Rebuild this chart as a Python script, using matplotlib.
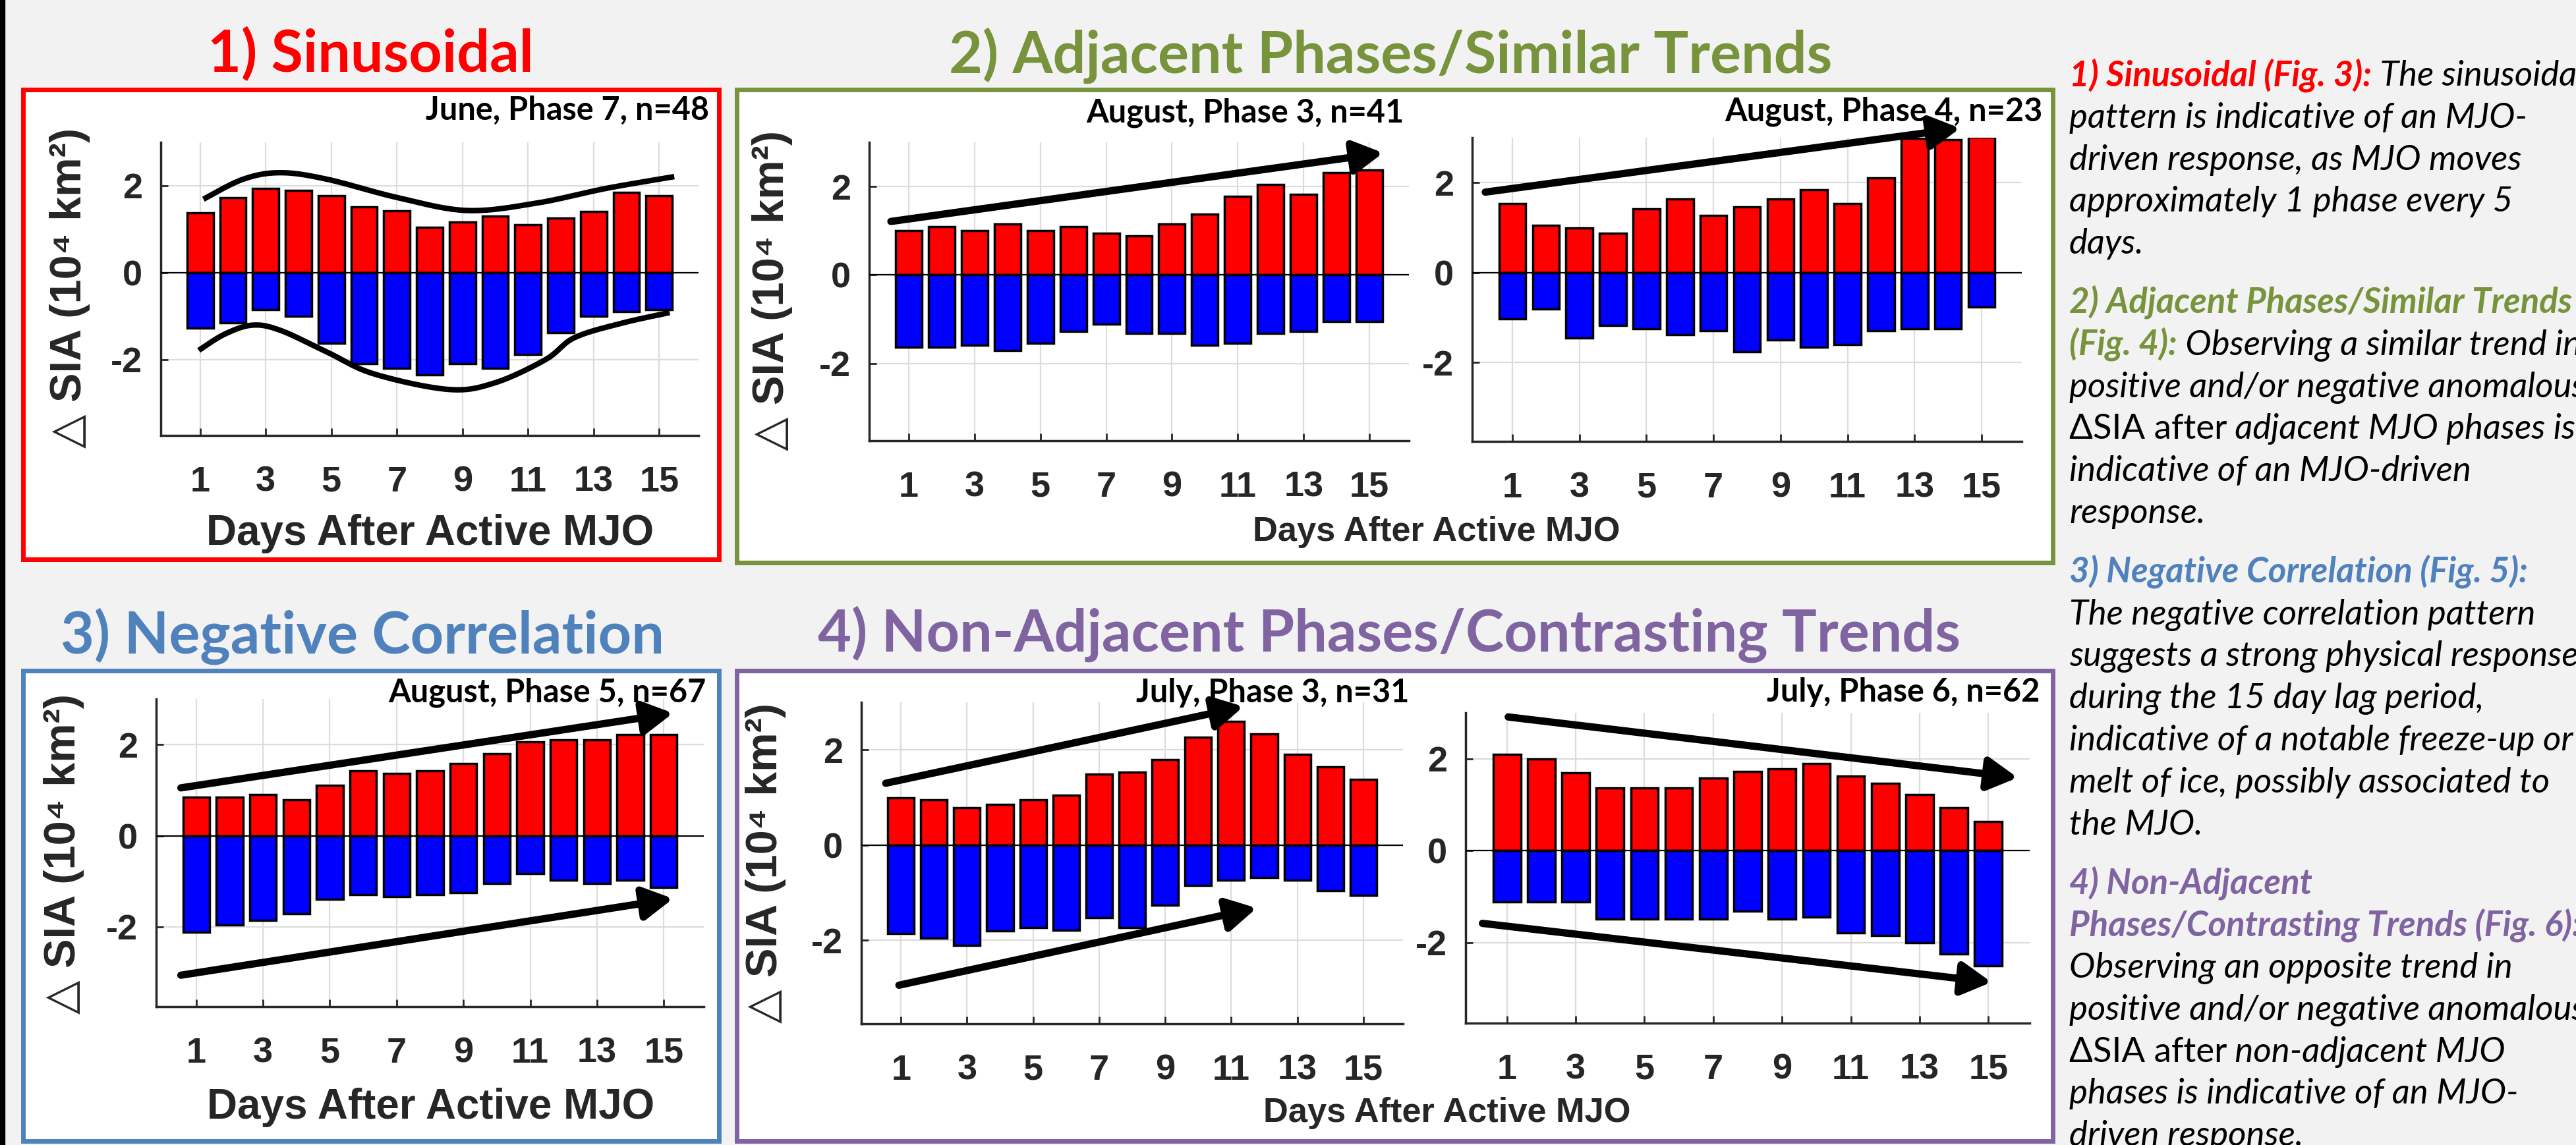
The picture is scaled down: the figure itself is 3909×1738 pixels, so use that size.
import numpy as np
import matplotlib
matplotlib.use("Agg")
import matplotlib.pyplot as plt
from matplotlib.patches import Rectangle

W, H = 3909, 1738

days = np.arange(1, 16)

# June, phase 7 (sinusoidal)
jun7_pos = [1.38, 1.73, 1.94, 1.89, 1.77, 1.52, 1.42, 1.04, 1.16, 1.30, 1.10, 1.26, 1.41, 1.84, 1.77]
jun7_neg = [-1.27, -1.16, -0.86, -1.00, -1.63, -2.10, -2.21, -2.36, -2.10, -2.21, -1.88, -1.38, -1.00, -0.90, -0.85]
# August, phase 3 and 4 (adjacent phases)
aug3_pos = [1.00, 1.10, 1.00, 1.15, 1.00, 1.10, 0.95, 0.88, 1.15, 1.37, 1.78, 2.04, 1.83, 2.32, 2.37]
aug3_neg = [-1.64, -1.64, -1.59, -1.71, -1.54, -1.27, -1.11, -1.32, -1.32, -1.59, -1.54, -1.32, -1.27, -1.06, -1.06]
aug4_pos = [1.53, 1.05, 1.00, 0.88, 1.42, 1.64, 1.27, 1.46, 1.64, 1.85, 1.53, 2.11, 2.98, 2.96, 3.02]
aug4_neg = [-1.02, -0.81, -1.45, -1.18, -1.24, -1.38, -1.29, -1.76, -1.50, -1.65, -1.60, -1.29, -1.24, -1.24, -0.76]
# August, phase 5 (negative correlation)
aug5_pos = [0.84, 0.85, 0.90, 0.79, 1.11, 1.43, 1.37, 1.43, 1.58, 1.80, 2.06, 2.11, 2.11, 2.22, 2.22]
aug5_neg = [-2.12, -1.96, -1.85, -1.71, -1.39, -1.29, -1.33, -1.29, -1.25, -1.04, -0.83, -0.98, -1.04, -0.98, -1.13]
# July, phase 3 and 6 (non-adjacent phases)
jul3_pos = [0.99, 0.95, 0.78, 0.85, 0.95, 1.05, 1.49, 1.53, 1.80, 2.27, 2.60, 2.33, 1.91, 1.64, 1.38]
jul3_neg = [-1.85, -1.95, -2.11, -1.80, -1.73, -1.78, -1.52, -1.73, -1.26, -0.84, -0.73, -0.68, -0.73, -0.95, -1.05]
jul6_pos = [2.10, 2.00, 1.69, 1.37, 1.37, 1.37, 1.58, 1.73, 1.78, 1.89, 1.63, 1.47, 1.22, 0.94, 0.63]
jul6_neg = [-1.12, -1.12, -1.12, -1.48, -1.48, -1.48, -1.48, -1.32, -1.48, -1.44, -1.79, -1.84, -2.00, -2.25, -2.51]

# hand drawn envelope curves on the sinusoidal panel (day, value)
upper_x = [1.10, 2.31, 3.45, 4.87, 7.00, 9.13, 11.26, 13.39, 15.46]
upper_y = [1.69, 2.15, 2.30, 2.15, 1.73, 1.43, 1.60, 1.94, 2.21]
lower_x = [0.96, 1.74, 2.59, 3.45, 4.87, 6.29, 8.57, 9.98, 11.54, 12.41, 13.83, 15.32]
lower_y = [-1.79, -1.42, -1.21, -1.33, -1.83, -2.33, -2.69, -2.54, -2.00, -1.50, -1.17, -0.92]

# trend arrows (x0, y0, x1, y1) in day / value units
aug3_arrows = [(0.46, 1.21, 15.42, 2.76)]
aug4_arrows = [(0.19, 1.79, 14.36, 3.21)]
aug5_arrows = [(0.54, 1.05, 15.28, 2.69), (0.54, -3.06, 15.28, -1.38)]
jul3_arrows = [(0.54, 1.30, 11.37, 2.91), (0.94, -2.94, 11.77, -1.32)]
jul6_arrows = [(1.04, 2.91, 15.85, 1.59), (0.29, -1.58, 15.09, -2.86)]

titles = ["1) Sinusoidal", "2) Adjacent Phases/Similar Trends",
          "3) Negative Correlation", "4) Non-Adjacent Phases/Contrasting Trends"]
cases = ["June, Phase 7, n=48", "August, Phase 3, n=41", "August, Phase 4, n=23",
         "August, Phase 5, n=67", "July, Phase 3, n=31", "July, Phase 6, n=62"]
xlab = "Days After Active MJO"
ylab = "\u25b3 SIA (10\u2074 km\u00b2)"

RED, GREEN, BLUE, PURPLE = "#ff0000", "#77933c", "#4f81bd", "#8064a2"
GRAY = "#262626"

# right hand notes, one list per paragraph, one list per line
notes = [
    [[("1) Sinusoidal (Fig. 3):", "h1"), (" The sinusoidal", "it")],
     [("pattern is indicative of an MJO-", "it")],
     [("driven response, as MJO moves", "it")],
     [("approximately 1 phase every 5", "it")],
     [("days.", "it")]],
    [[("2) Adjacent Phases/Similar Trends", "h2")],
     [("(Fig. 4):", "h2"), (" Observing a similar trend in", "it")],
     [("positive and/or negative anomalous", "it")],
     [("\u0394SIA after", "rm"), (" adjacent MJO phases is", "it")],
     [("indicative of an MJO-driven", "it")],
     [("response.", "it")]],
    [[("3) Negative Correlation (Fig. 5):", "h3")],
     [("The negative correlation pattern", "it")],
     [("suggests a strong physical response", "it")],
     [("during the 15 day lag period,", "it")],
     [("indicative of a notable freeze-up or", "it")],
     [("melt of ice, possibly associated to", "it")],
     [("the MJO.", "it")]],
    [[("4) Non-Adjacent", "h4")],
     [("Phases/Contrasting Trends (Fig. 6):", "h4")],
     [("Observing an opposite trend in", "it")],
     [("positive and/or negative anomalous", "it")],
     [("\u0394SIA after", "rm"), (" non-adjacent MJO", "it")],
     [("phases is indicative of an MJO-", "it")],
     [("driven response.", "it")]],
]
note_styles = {
    "h1": dict(color=RED, style="italic", fontweight="bold"),
    "h2": dict(color=GREEN, style="italic", fontweight="bold"),
    "h3": dict(color=BLUE, style="italic", fontweight="bold"),
    "h4": dict(color=PURPLE, style="italic", fontweight="bold"),
    "it": dict(color="black", style="italic", fontweight="normal"),
    "rm": dict(color="black", style="normal", fontweight="normal"),
}

plt.rcParams["font.family"] = ["Liberation Sans", "DejaVu Sans"]
plt.rcParams["axes.unicode_minus"] = False
SOFT = ["Lato", "DejaVu Sans"]

fig = plt.figure(figsize=(W / 100, H / 100), dpi=100, facecolor="#f2f2f2")
rend = fig.canvas.get_renderer()


def fit(s, target, **kw):
    # font size that makes s about target pixels wide
    t = fig.text(0, 0, s, fontsize=50, **kw)
    w = t.get_window_extent(renderer=rend).width
    t.remove()
    return 50 * target / w


# background layer in pixel units
bg = fig.add_axes([0, 0, 1, 1], zorder=0)
bg.set_xlim(0, W)
bg.set_ylim(H, 0)
bg.axis("off")
bg.add_patch(Rectangle((0, 0), 7, H, color="black"))

boxes = [(35, 136, 1091, 849, RED), (1118, 136, 3115, 854, GREEN),
         (35, 1018, 1091, 1732, BLUE), (1118, 1018, 3115, 1732, PURPLE)]
for l, t, r, b, c in boxes:
    bg.add_patch(Rectangle((l, t), r - l, b - t, facecolor="white", edgecolor=c, lw=5))

title_fs = fit(titles[2], 918, family=SOFT, fontweight="bold")
for s, (x, y), c in zip(titles, [(562, 109), (2110, 111), (550, 992), (2108, 989)],
                        [RED, GREEN, BLUE, PURPLE]):
    bg.text(x, y, s, ha="center", va="baseline", color=c, fontsize=title_fs,
            family=SOFT, fontweight="bold")

case_fs = fit(cases[1], 482, family=SOFT, fontweight="bold")
for s, (x, y) in zip(cases, [(1076, 182), (2131, 186), (3100, 184),
                             (1072, 1066), (2138, 1066), (3095, 1065)]):
    bg.text(x, y, s, ha="right", va="baseline", fontsize=case_fs, family=SOFT,
            fontweight="bold", color="black")

xl_fs = fit(xlab, 680, fontweight="bold")
xl2_fs = fit(xlab, 558, fontweight="bold")
for (x, y), fs in zip([(653, 810), (2180, 807), (654, 1681), (2196, 1689)],
                      [xl_fs, xl2_fs, xl_fs, xl2_fs]):
    bg.text(x, y, xlab, ha="center", va="center", fontsize=fs, fontweight="bold", color=GRAY)

yl_fs = fit(ylab, 486, fontweight="bold")
for x, y in [(106, 437), (1172, 441), (97, 1296), (1162, 1310)]:
    bg.text(x, y, ylab, ha="center", va="center", rotation=90, fontsize=yl_fs,
            fontweight="bold", color=GRAY)


def catmull(xs, ys, n=20):
    # smooth curve through the hand drawn control points
    p = np.column_stack([xs, ys])
    p = np.vstack([p[0], p, p[-1]])
    out = []
    tt = np.linspace(0, 1, n, endpoint=False)[:, None]
    for i in range(1, len(p) - 2):
        p0, p1, p2, p3 = p[i - 1], p[i], p[i + 1], p[i + 2]
        out.append(0.5 * (2 * p1 + (-p0 + p2) * tt + (2 * p0 - 5 * p1 + 4 * p2 - p3) * tt ** 2
                          + (-p0 + 3 * p1 - 3 * p2 + p3) * tt ** 3))
    out.append(p[-2][None, :])
    return np.vstack(out)


def panel(box, pos, neg, arrows=()):
    l, t, r, b = box
    ax = fig.add_axes([l / W, 1 - b / H, (r - l) / W, (b - t) / H], zorder=1)
    ax.patch.set_alpha(0)
    ax.bar(days, pos, 0.8, color="#ff0000", edgecolor="black", lw=2.5, zorder=2)
    ax.bar(days, neg, 0.8, color="#0000ff", edgecolor="black", lw=2.5, zorder=2)
    ax.axhline(0, color="black", lw=1.6, zorder=3)
    ax.set_xlim(-0.2, 16.2)
    ax.set_ylim(-3.75, 3)
    ax.set_xticks(range(1, 16, 2))
    ax.set_yticks([-2, 0, 2])
    ax.grid(True, color="#dcdcdc", lw=1.6)
    ax.set_axisbelow(True)
    for s in ["top", "right"]:
        ax.spines[s].set_visible(False)
    for s in ["left", "bottom"]:
        ax.spines[s].set_linewidth(2.5)
        ax.spines[s].set_color(GRAY)
    ax.tick_params(direction="in", length=8, width=2, colors=GRAY, labelsize=39)
    ax.tick_params(axis="x", pad=33)
    ax.tick_params(axis="y", pad=20)
    for lab in ax.get_xticklabels() + ax.get_yticklabels():
        lab.set_fontweight("bold")
    for x0, y0, x1, y1 in arrows:
        ax.annotate("", xy=(x1, y1), xytext=(x0, y0), annotation_clip=False,
                    arrowprops=dict(arrowstyle="-|>,head_length=0.9,head_width=0.5",
                                    lw=8, color="black", mutation_scale=30,
                                    shrinkA=0, shrinkB=0))
    return ax


ax1 = panel((244, 216, 1060, 661), jun7_pos, jun7_neg)
for cx, cy in [(upper_x, upper_y), (lower_x, lower_y)]:
    c = catmull(cx, cy)
    ax1.plot(c[:, 0], c[:, 1], color="black", lw=6, solid_capstyle="butt", zorder=4)

panel((1319, 216, 2138, 669), aug3_pos, aug3_neg, aug3_arrows)
panel((2234, 209, 3068, 670), aug4_pos, aug4_neg, aug4_arrows)
panel((237, 1061, 1068, 1528), aug5_pos, aug5_neg, aug5_arrows)
panel((1307, 1066, 2129, 1554), jul3_pos, jul3_neg, jul3_arrows)
panel((2224, 1082, 3080, 1553), jul6_pos, jul6_neg, jul6_arrows)

# notes column on the right
note_fs = fit("pattern is indicative of an MJO-", 675, family=SOFT, style="italic") * 1.03
row = 0
for p, para in enumerate(notes):
    for line in para:
        y = 130 + 63.8 * row + 26 * p
        prev = None
        for s, k in line:
            kw = dict(fontsize=note_fs, family=SOFT, va="baseline", ha="left", **note_styles[k])
            if prev is None:
                prev = bg.text(3140, y, s, **kw)
            else:
                prev = bg.annotate(s, xy=(1, y), xycoords=(prev, "data"), **kw)
        row += 1

fig.savefig("out.png", dpi=100, facecolor=fig.get_facecolor())
